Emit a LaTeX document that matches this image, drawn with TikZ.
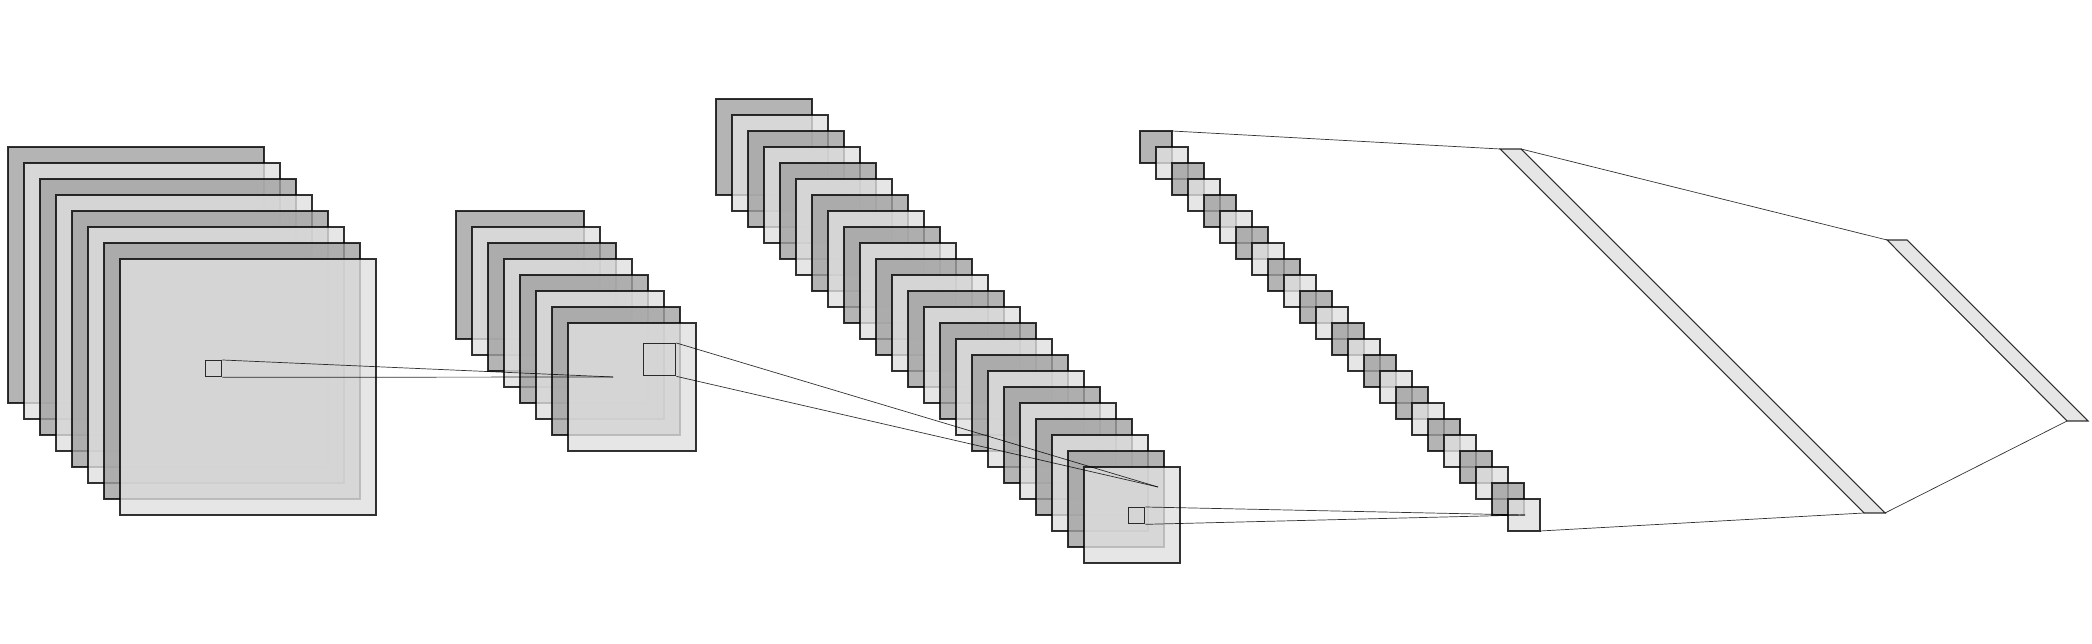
\documentclass[tikz,border=0pt]{standalone}
\begin{document}
\begin{tikzpicture}[x=0.1mm,y=-0.1mm,
  fmap/.style={draw=black, line width=0.34pt, opacity=0.8},
  fdark/.style={fmap, fill=black!37},
  flight/.style={fmap, fill=black!12},
  kern/.style={draw=black, line width=0.38pt, opacity=0.8, inner sep=0pt, anchor=north west},
  conn/.style={draw=black, line width=0.2pt, opacity=0.8},
  fcbar/.style={fmap, fill=black!12, line width=0.3pt}]
\useasboundingbox (0,0) rectangle (2092,644);
\newcommand\fmstack[4]{%
  \pgfmathtruncatemacro\fmlast{#4-1}%
  \foreach \i in {0,...,\fmlast}{%
    \pgfmathsetmacro\xx{#1+16*\i}%
    \pgfmathsetmacro\yy{#2+16*\i}%
    \pgfmathtruncatemacro\odd{mod(\i,2)}%
    \ifnum\odd=0
      \path[fdark] (\xx,\yy) rectangle ++(#3,#3);
    \else
      \path[flight] (\xx,\yy) rectangle ++(#3,#3);
    \fi
  }}
% feature map stacks
\fmstack{8}{147}{256}{8}
\fmstack{456}{211}{128}{8}
\fmstack{716}{99}{96}{24}
\fmstack{1140}{131}{32}{24}
% fully connected bars
\coordinate (b1tl) at (1500,149);
\coordinate (b1tr) at (1521,149);
\coordinate (b1br) at (1885,513);
\coordinate (b1bl) at (1864,513);
\coordinate (b2tl) at (1887,240);
\coordinate (b2tr) at (1907,240);
\coordinate (b2br) at (2088,421);
\coordinate (b2bl) at (2067,421);
\path[fcbar] (b1tl) -- (b1tr) -- (b1br) -- (b1bl) -- cycle;
\path[fcbar] (b2tl) -- (b2tr) -- (b2br) -- (b2bl) -- cycle;
% kernels
\node[kern, minimum size=1.6mm] (k1) at (205,360) {};
\node[kern, minimum size=3.2mm] (k2) at (643,343) {};
\node[kern, minimum size=1.6mm] (k3) at (1128,507) {};
\coordinate (p2) at (613,377);
\coordinate (p3) at (1158,487);
\coordinate (p4) at (1525,515);
\coordinate (s4a) at (1172,131);
\coordinate (s4b) at (1540,531);
% connectors
\draw[conn] (k1.north east) -- (p2);
\draw[conn] (k1.south east) -- (p2);
\draw[conn] (k2.north east) -- (p3);
\draw[conn] (k2.south east) -- (p3);
\draw[conn] (k3.north east) -- (p4);
\draw[conn] (k3.south east) -- (p4);
\draw[conn] (s4a) -- (b1tl);
\draw[conn] (s4b) -- (b1bl);
\draw[conn] (b1tr) -- (b2tl);
\draw[conn] (b1br) -- (b2bl);
\end{tikzpicture}
\end{document}
